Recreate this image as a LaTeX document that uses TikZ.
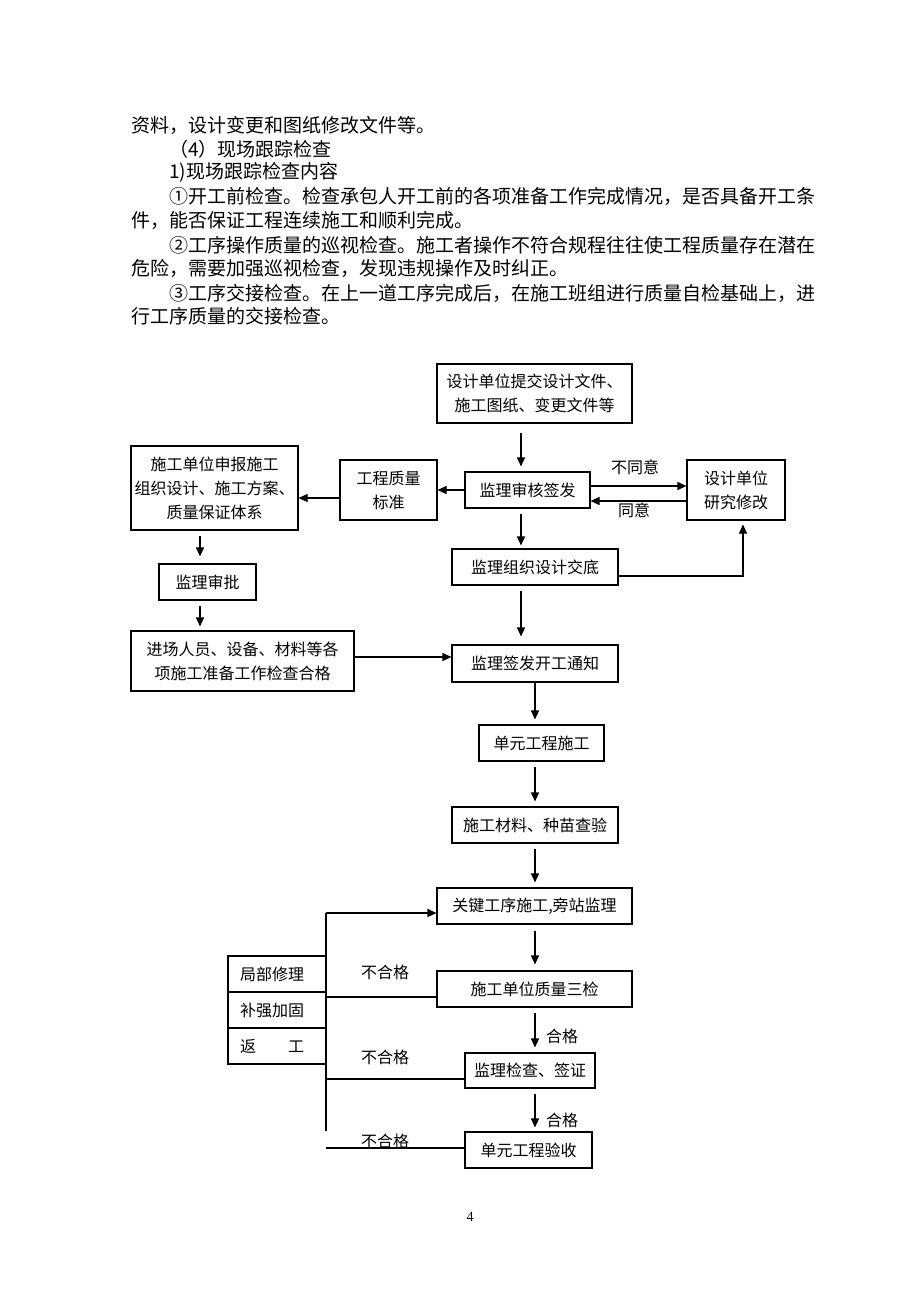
\documentclass[tikz,border=0pt]{standalone}
\usepackage{fontspec}
\setmainfont{Liberation Serif}
\newfontfamily\cjk{Noto Sans CJK SC}
\usetikzlibrary{arrows.meta}
\begin{document}
\begin{tikzpicture}[x=1pt,y=-1pt,
  box/.style={draw,line width=1.1pt,align=center,inner sep=0pt,
    font=\cjk\fontsize{16}{24}\selectfont},
  rowbox/.style={draw,line width=1.1pt,align=left,inner xsep=12pt,inner ysep=0pt,
    text width=74pt,minimum height=36pt,font=\cjk\fontsize{16}{24}\selectfont},
  arr/.style={line width=1.1pt,-{Triangle[length=9pt,width=8pt]}},
  ln/.style={line width=1.1pt},
  lbl/.style={inner sep=0pt,font=\cjk\fontsize{16}{20}\selectfont},
  body/.style={anchor=west,inner sep=0pt,font=\cjk\fontsize{19}{24}\selectfont}]
\fill[white] (0,0) rectangle (920,1302);
\useasboundingbox (0,0) rectangle (920,1302);

% body text
\node[body] (t1) at (131,125) {资料，设计变更和图纸修改文件等。};
\node[body] (t2) at (169,149) {（4）现场跟踪检查};
\node[body] (t3) at (169,172) {1)现场跟踪检查内容};
\node[body] (t4) at (169,196) {①开工前检查。检查承包人开工前的各项准备工作完成情况，是否具备开工条};
\node[body] (t5) at (131,220) {件，能否保证工程连续施工和顺利完成。};
\node[body] (t6) at (169,245) {②工序操作质量的巡视检查。施工者操作不符合规程往往使工程质量存在潜在};
\node[body] (t7) at (131,268) {危险，需要加强巡视检查，发现违规操作及时纠正。};
\node[body] (t8) at (169,293) {③工序交接检查。在上一道工序完成后，在施工班组进行质量自检基础上，进};
\node[body] (t9) at (131,316) {行工序质量的交接检查。};

% boxes
\node[box,minimum width=195pt,minimum height=59pt] (A) at (534.5,393.5) {设计单位提交设计文件、\\施工图纸、变更文件等};
\node[box,minimum width=125pt,minimum height=36pt] (B) at (527.5,490) {监理审核签发};
\node[box,minimum width=97pt,minimum height=60pt] (C) at (388.5,490) {工程质量\\标准};
\node[box,minimum width=167pt,minimum height=84pt] (D) at (214.5,488) {施工单位申报施工\\组织设计、施工方案、\\质量保证体系};
\node[box,minimum width=98pt,minimum height=60pt] (E) at (736,490) {设计单位\\研究修改};
\node[box,minimum width=166pt,minimum height=36pt] (F) at (535,567) {监理组织设计交底};
\node[box,minimum width=97pt,minimum height=36pt] (G) at (207.5,582) {监理审批};
\node[box,minimum width=223pt,minimum height=60pt] (H) at (242.5,661) {进场人员、设备、材料等各\\项施工准备工作检查合格};
\node[box,minimum width=166pt,minimum height=37pt] (I) at (535,663.5) {监理签发开工通知};
\node[box,minimum width=125pt,minimum height=36pt] (J) at (541.5,743) {单元工程施工};
\node[box,minimum width=166pt,minimum height=36pt] (K) at (535,825) {施工材料、种苗查验};
\node[box,minimum width=195pt,minimum height=36pt] (L) at (534.5,906) {关键工序施工,旁站监理};
\node[box,minimum width=195pt,minimum height=36pt] (M) at (534.5,989) {施工单位质量三检};
\node[box,minimum width=130pt,minimum height=35pt] (N) at (530,1070.5) {监理检查、签证};
\node[box,minimum width=127pt,minimum height=36pt] (O) at (528.5,1150) {单元工程验收};
\node[rowbox] (P1) at (277,974) {局部修理};
\node[rowbox] (P2) at (277,1010) {补强加固};
\node[rowbox] (P3) at (277,1046) {返\hspace{2em}工};

% column coordinates
\coordinate (c521) at (521,0);
\coordinate (c535) at (535,0);
\coordinate (c200) at (200,0);
\coordinate (c743) at (743,576);
\coordinate (r486) at (0,486);
\coordinate (r501) at (0,501);
\coordinate (r498) at (0,498);
\coordinate (r657) at (0,657);
\coordinate (r576) at (0,576);
\coordinate (fbT) at (326,913);
\coordinate (fbB) at (326,1131);
\coordinate (r997) at (0,997);
\coordinate (r1079) at (0,1079);
\coordinate (r1148) at (0,1148);
\coordinate (x326) at (326,0);

% connectors
\draw[arr,shorten <=9pt,shorten >=5pt] (A.south -| c521) -- (B.north -| c521);
\draw[arr] (B.west) -- (C.east);
\draw[arr] (C.west |- r498) -- (D.east |- r498);
\draw[arr] (B.east |- r486) -- (E.west |- r486);
\draw[arr] (E.west |- r501) -- (B.east |- r501);
\draw[arr,shorten <=5pt,shorten >=3pt] (B.south -| c521) -- (F.north -| c521);
\draw[arr,shorten >=4pt] (F.east |- r576) -- (c743) -- (E.south -| c743);
\draw[arr,shorten <=5pt,shorten >=8pt] (F.south -| c521) -- (I.north -| c521);
\draw[arr,shorten <=5pt,shorten >=7pt] (D.south -| c200) -- (G.north -| c200);
\draw[arr,shorten <=5pt,shorten >=4pt] (G.south -| c200) -- (H.north -| c200);
\draw[arr] (H.east |- r657) -- (I.west |- r657);
\draw[arr,shorten >=5pt] (I.south -| c535) -- (J.north -| c535);
\draw[arr,shorten <=5pt,shorten >=5pt] (J.south -| c535) -- (K.north -| c535);
\draw[arr,shorten <=5pt,shorten >=5pt] (K.south -| c535) -- (L.north -| c535);
\draw[arr,shorten <=6pt,shorten >=6pt] (L.south -| c535) -- (M.north -| c535);
\draw[arr,shorten <=5pt,shorten >=5pt] (M.south -| c535) -- (N.north -| c535);
\draw[arr,shorten <=5pt,shorten >=4pt] (N.south -| c535) -- (O.north -| c535);

% rework loop
\draw[ln] (fbB) -- (fbT);
\draw[arr] (fbT) -- (L.west |- fbT);
\draw[ln] (M.west |- r997) -- (x326 |- r997);
\draw[ln] (N.west |- r1079) -- (x326 |- r1079);
\draw[ln] (O.west |- r1148) -- (x326 |- r1148);

% labels
\node[lbl] (l1) at (635,467) {不同意};
\node[lbl] (l2) at (634,510) {同意};
\node[lbl] (l3) at (385,972) {不合格};
\node[lbl] (l4) at (385,1057) {不合格};
\node[lbl] (l5) at (385,1141) {不合格};
\node[lbl] (l6) at (562,1036) {合格};
\node[lbl] (l7) at (562,1120) {合格};

\node[inner sep=0pt,font=\fontsize{14}{16}\selectfont] (pg) at (470,1217) {4};
\end{tikzpicture}
\end{document}
